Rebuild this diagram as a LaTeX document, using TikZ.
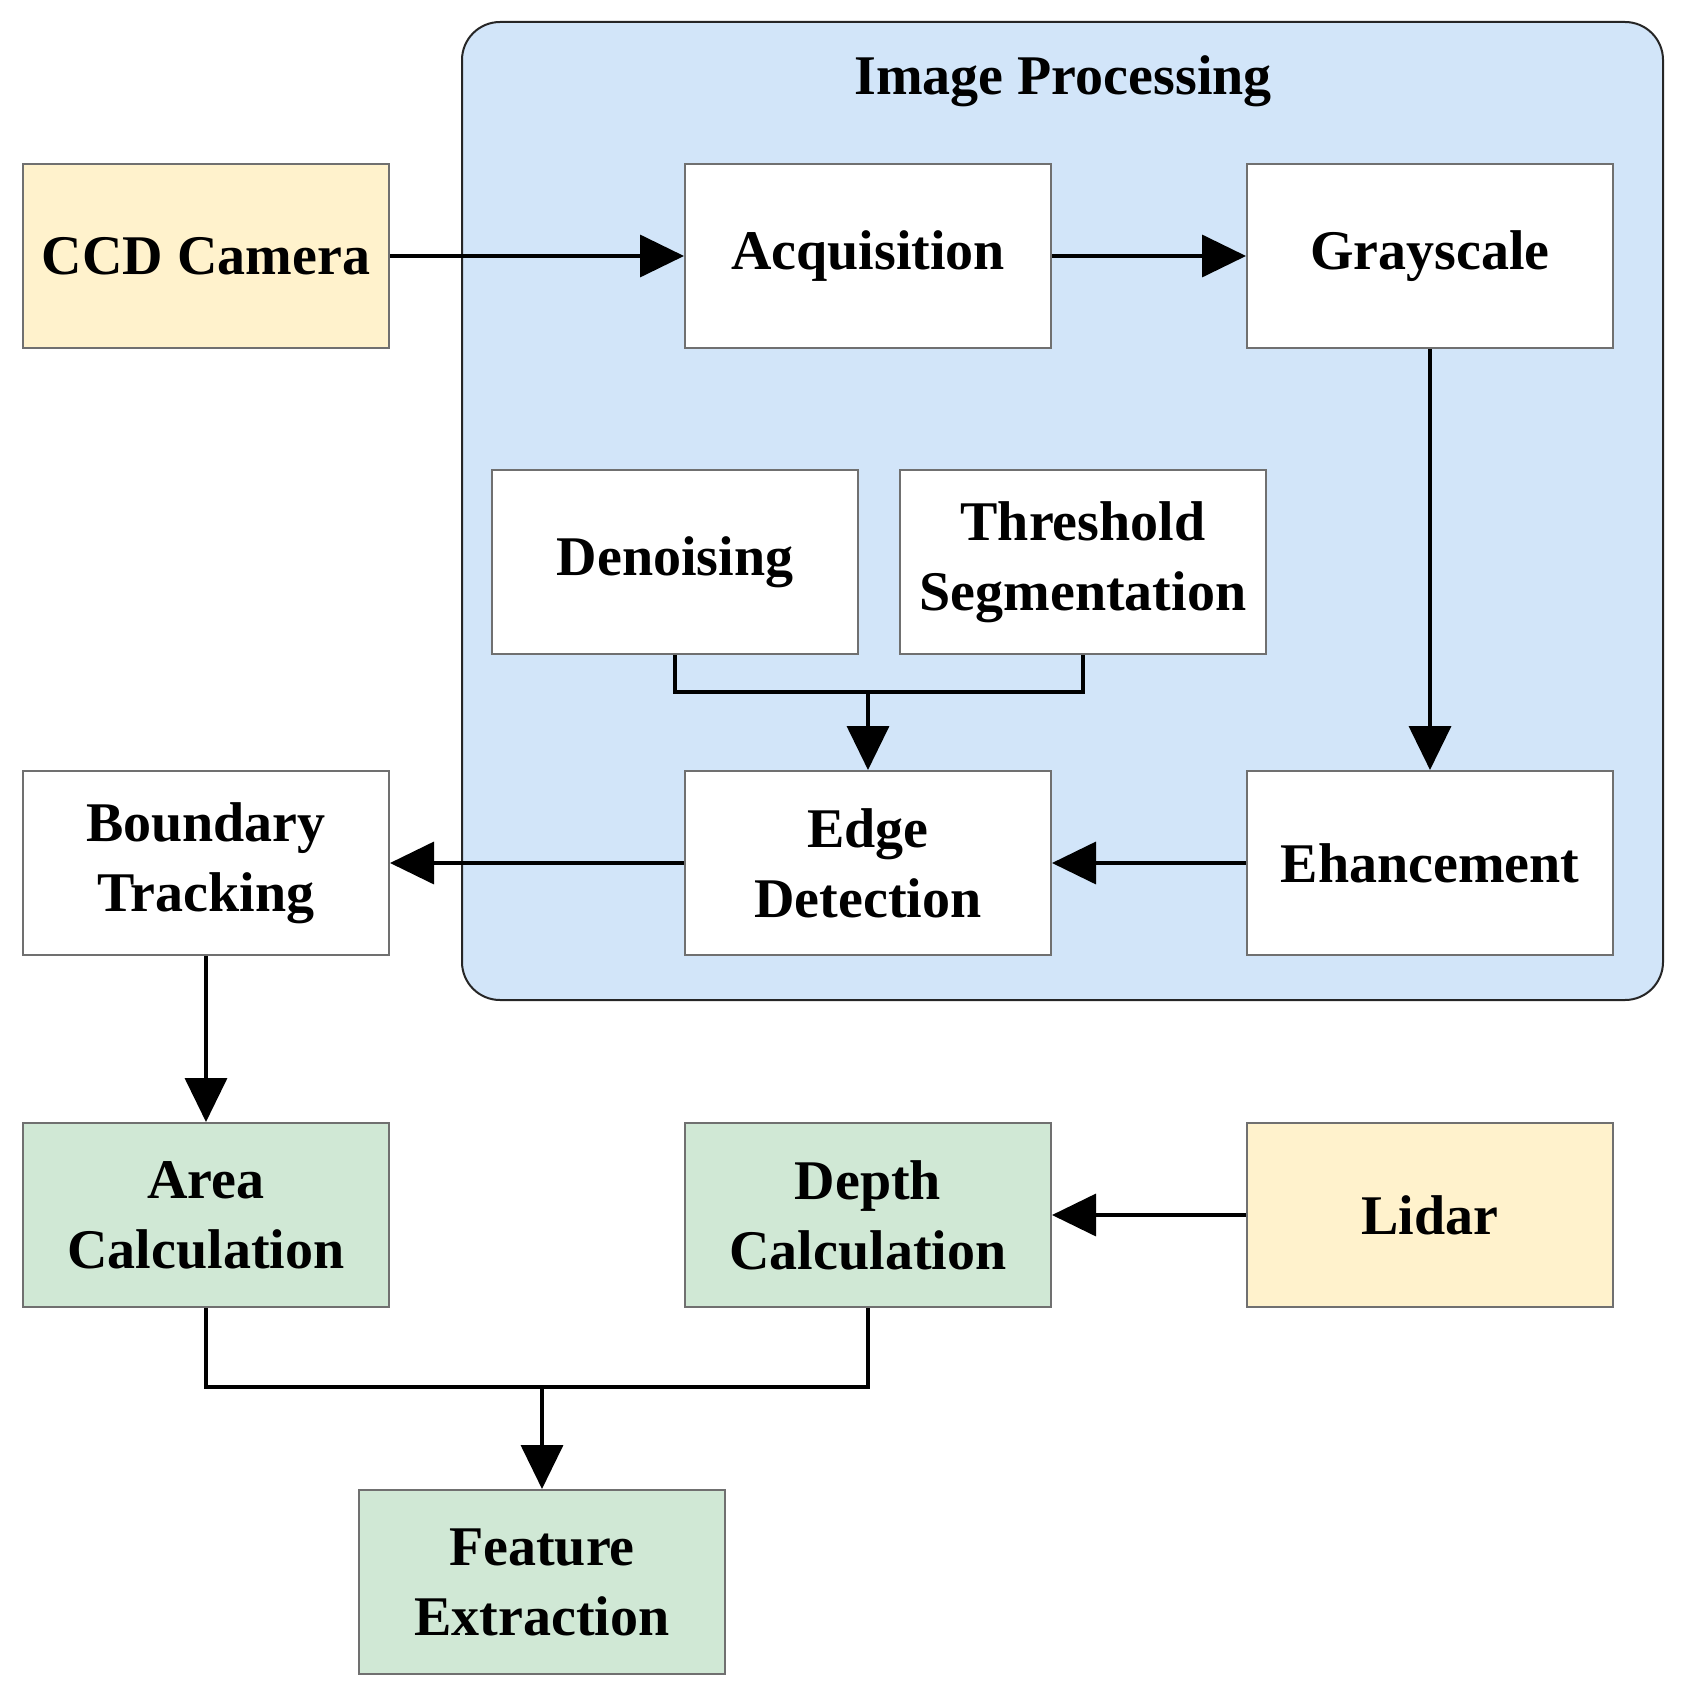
\documentclass[tikz,border=0pt]{standalone}
\usepackage{fontspec}
\setmainfont{Liberation Serif}
\usetikzlibrary{arrows.meta}
\definecolor{camyellow}{HTML}{FFF2CC}
\definecolor{calcgreen}{HTML}{D0E8D5}
\definecolor{procblue}{HTML}{D2E5F9}
\definecolor{boxgray}{HTML}{707070}
\begin{document}
\begin{tikzpicture}[x=1pt,y=-1pt,
  every node/.style={font=\fontsize{56}{70}\selectfont\bfseries},
  blockbox/.style={draw=boxgray,line width=2pt,fill=white,minimum width=366pt,minimum height=184pt,align=center,inner sep=0pt},
  yellowbox/.style={blockbox,fill=camyellow},
  greenbox/.style={blockbox,fill=calcgreen},
  conn/.style={line width=3.6pt,-{Triangle[length=44pt,width=42pt]}},
  plainconn/.style={line width=3.6pt}]
\useasboundingbox (0,0) rectangle (1690,1693);
% processing container
\node[draw=black!85,line width=2pt,fill=procblue,rounded corners=38pt,minimum width=1201pt,minimum height=978pt,inner sep=0pt] (proc) at (1062.5,511) {};
\node (title) at (1063,81) {Image Processing};
% nodes
\node[yellowbox] (ccd) at (206,256) {CCD Camera};
\node[blockbox] (acq) at (868,256) {Acquisition};
\node[blockbox] (gray) at (1430,256) {Grayscale};
\node[blockbox] (den) at (675,562) {Denoising};
\node[blockbox] (thr) at (1083,562) {Threshold\\Segmentation};
\node[blockbox] (edge) at (868,863) {Edge\\Detection};
\node[blockbox] (enh) at (1430,863) {Ehancement};
\node[blockbox] (bnd) at (206,863) {Boundary\\Tracking};
\node[greenbox] (area) at (206,1215) {Area\\Calculation};
\node[greenbox] (depth) at (868,1215) {Depth\\Calculation};
\node[yellowbox] (lidar) at (1430,1215) {Lidar};
\node[greenbox] (feat) at (542,1582) {Feature\\Extraction};
% junction points
\coordinate (j1) at (868,692);
\coordinate (j2) at (542,1387);
% connectors
\draw[conn] (ccd.east) -- (acq.west);
\draw[conn] (acq.east) -- (gray.west);
\draw[conn] (gray.south) -- (enh.north);
\draw[conn] (enh.west) -- (edge.east);
\draw[plainconn] (den.south) |- (j1) -| (thr.south);
\draw[conn] (j1) -- (edge.north);
\draw[conn] (edge.west) -- (bnd.east);
\draw[conn] (bnd.south) -- (area.north);
\draw[conn] (lidar.west) -- (depth.east);
\draw[plainconn] (area.south) |- (j2) -| (depth.south);
\draw[conn] (j2) -- (feat.north);
\end{tikzpicture}
\end{document}
